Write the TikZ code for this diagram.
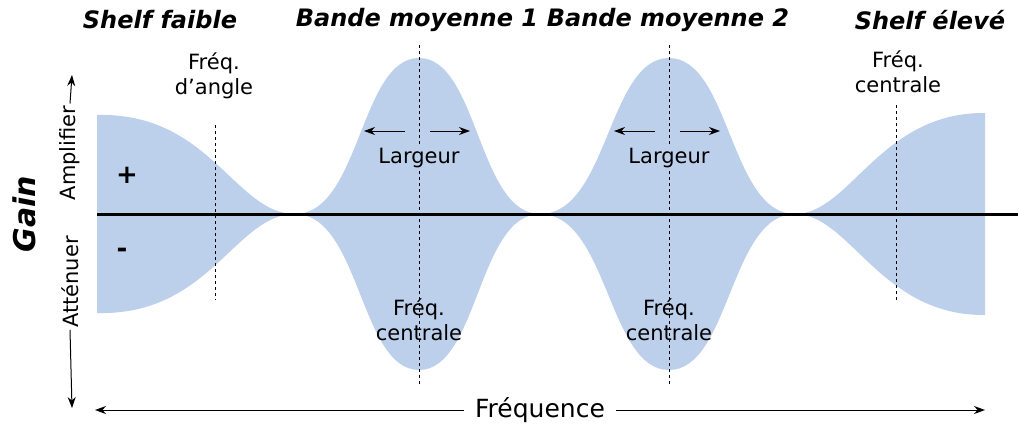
\documentclass[tikz,border=0pt]{standalone}
\usepackage{fontspec}
\setmainfont{DejaVu Sans}
\usetikzlibrary{arrows.meta}
\definecolor{bandblue}{HTML}{BDD0EB}
\begin{document}
\begin{tikzpicture}[x=1pt,y=-1pt,
  hdr/.style={font=\fontsize{24}{25}\selectfont\bfseries\itshape},
  lbl/.style={font=\fontsize{21}{25}\selectfont, align=center},
  dsh/.style={dashed, line width=0.9pt},
  arr/.style={-{Stealth[length=11pt,width=8pt]}, line width=1pt}]
\useasboundingbox (0,0) rectangle (1018,429);
\fill[bandblue] (97,115) .. controls (210,112) and (235,214) .. (295,214)
  .. controls (360,214) and (360,58) .. (419,58)
  .. controls (478,58) and (478,214) .. (540,214)
  .. controls (608,214) and (608,58) .. (669,58)
  .. controls (730,58) and (730,214) .. (795,214)
  .. controls (850,214) and (880,112) .. (985,113)
  -- (985,315)
  .. controls (880,316) and (850,214) .. (795,214)
  .. controls (730,214) and (730,370) .. (669,370)
  .. controls (608,370) and (608,214) .. (540,214)
  .. controls (478,214) and (478,370) .. (419,370)
  .. controls (360,370) and (360,214) .. (295,214)
  .. controls (235,214) and (210,316) .. (97,313) -- cycle;
\coordinate (axL) at (97,214); \coordinate (axR) at (1018,214);
\draw[line width=3pt] (axL) -- (axR);
\coordinate (d1a) at (215,125); \coordinate (d1b) at (215,300);
\coordinate (d2a) at (419,45); \coordinate (d2b) at (419,385);
\coordinate (d3a) at (669,45); \coordinate (d3b) at (669,385);
\coordinate (d4a) at (896,105); \coordinate (d4b) at (896,300);
\draw[dsh] (d1a)--(d1b); \draw[dsh] (d2a)--(d2b);
\draw[dsh] (d3a)--(d3b); \draw[dsh] (d4a)--(d4b);
\node[hdr] (h1) at (160,20) {Shelf faible};
\node[hdr] (h2) at (417,20) {Bande moyenne 1};
\node[hdr] (h3) at (668,20) {Bande moyenne 2};
\node[hdr] (h4) at (930,20) {Shelf élevé};
\node[lbl] (fa) at (214,76) {Fréq.\\d’angle};
\node[lbl] (fc4) at (898,72) {Fréq.\\centrale};
\node[lbl] (fc2) at (419,320) {Fréq.\\centrale};
\node[lbl] (fc3) at (669,320) {Fréq.\\centrale};
\node[lbl,fill=bandblue,inner sep=1pt] (w2) at (419,158) {Largeur};
\node[lbl,fill=bandblue,inner sep=1pt] (w3) at (669,158) {Largeur};
\coordinate (a2l0) at (405,131); \coordinate (a2l1) at (364,131);
\coordinate (a2r0) at (430,131); \coordinate (a2r1) at (470,131);
\coordinate (a3l0) at (655,131); \coordinate (a3l1) at (614,131);
\coordinate (a3r0) at (680,131); \coordinate (a3r1) at (720,131);
\draw[arr] (a2l0)--(a2l1); \draw[arr] (a2r0)--(a2r1);
\draw[arr] (a3l0)--(a3l1); \draw[arr] (a3r0)--(a3r1);
\node[font=\fontsize{26}{26}\selectfont\bfseries] (plus) at (127,175) {+};
\node[font=\fontsize{26}{26}\selectfont\bfseries] (minus) at (122,253) {-};
\node[font=\fontsize{30}{30}\selectfont\bfseries\itshape,rotate=90] (gain) at (24,214) {Gain};
\node[lbl,rotate=90,inner sep=2pt] (amp) at (70,153) {Amplifier};
\node[lbl,rotate=90,inner sep=2pt] (att) at (70,282) {Atténuer};
\coordinate (vt) at (72,75); \coordinate (vb) at (72,408);
\draw[arr] (amp.east)--(vt);
\draw[arr] (att.west)--(vb);
\node[font=\fontsize{25}{26}\selectfont] (freq) at (540,410) {Fréquence};
\coordinate (hl) at (95,410); \coordinate (hr) at (985,410);
\draw[arr] ([xshift=-8pt]freq.west)--(hl);
\draw[arr] ([xshift=8pt]freq.east)--(hr);
\end{tikzpicture}
\end{document}
